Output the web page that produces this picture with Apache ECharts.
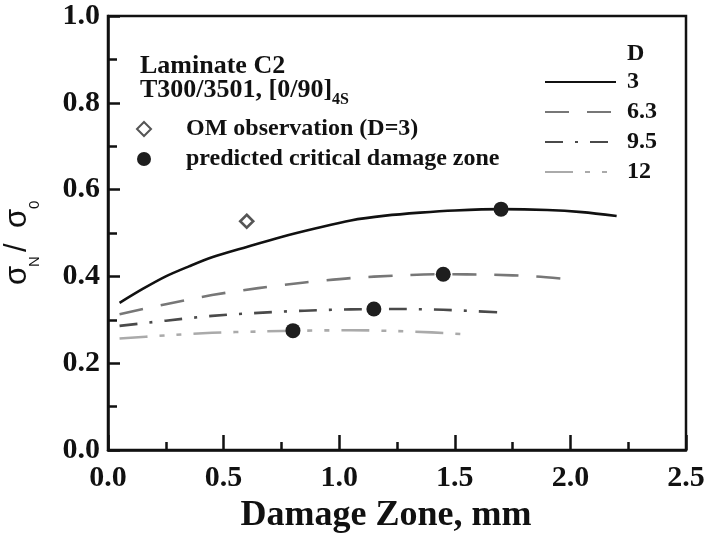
<!DOCTYPE html>
<html>
<head>
<meta charset="utf-8">
<script src="https://cdn.jsdelivr.net/npm/echarts@6/dist/echarts.min.js"></script>
<style>html,body{margin:0;padding:0;background:#fff}#c{width:708px;height:533px}</style>
</head>
<body>
<div id="c"></div>
<script>
// Damage zone (mm) and normalized strength for each hole diameter D
const d3X = [0.05, 0.15, 0.25, 0.35, 0.45, 0.6, 0.75, 0.9, 1.05, 1.2, 1.35, 1.5, 1.7, 1.9, 2.05, 2.2];
const d3Y = [0.339, 0.371, 0.400, 0.423, 0.444, 0.468, 0.491, 0.511, 0.529, 0.540, 0.547, 0.552, 0.555, 0.553, 0.548, 0.539];
const d63X = [0.05, 0.25, 0.45, 0.65, 0.85, 1.05, 1.25, 1.45, 1.65, 1.85, 2.02];
const d63Y = [0.313, 0.336, 0.357, 0.373, 0.386, 0.396, 0.402, 0.405, 0.404, 0.400, 0.392];
const d95X = [0.05, 0.25, 0.45, 0.65, 0.85, 1.05, 1.25, 1.45, 1.7];
const d95Y = [0.286, 0.298, 0.309, 0.316, 0.321, 0.324, 0.325, 0.323, 0.317];
const d12X = [0.05, 0.25, 0.45, 0.65, 0.85, 1.05, 1.25, 1.4, 1.56];
const d12Y = [0.257, 0.264, 0.270, 0.273, 0.275, 0.276, 0.274, 0.271, 0.266];
const omX = [0.6];
const omY = [0.527];
const predX = [1.70, 1.45, 1.15, 0.80];
const predY = [0.555, 0.405, 0.325, 0.275];
const xTicks = [0, 0.5, 1.0, 1.5, 2.0, 2.5];
const yTicks = [0, 0.2, 0.4, 0.6, 0.8, 1.0];

const zip = (xs, ys) => xs.map((x, i) => [x, ys[i]]);
const serif = 'Liberation Serif';
const sans = 'Liberation Sans';

const chart = echarts.init(document.getElementById('c'), null, {renderer: 'canvas'});

function lineSeries(name, xs, ys, color, type) {
  return {
    name: name, type: 'line', data: zip(xs, ys), smooth: 0.3,
    showSymbol: false, symbol: 'none',
    lineStyle: {color: color, width: 2.6, type: type, cap: 'butt'},
    itemStyle: {color: color},
    z: 2
  };
}

function yTitle() {
  const base = {fill: '#111', fontFamily: sans, verticalAlign: 'middle', align: 'left'};
  return {
    type: 'group', x: 28, y: 285, rotation: Math.PI / 2,
    children: [
      {type: 'text', x: 0, y: -11, style: Object.assign({}, base, {text: 'σ', fontSize: 31})},
      {type: 'text', x: 18, y: 7, style: Object.assign({}, base, {text: 'N', fontSize: 15})},
      {type: 'text', x: 33, y: -11, style: Object.assign({}, base, {text: '/', fontSize: 31})},
      {type: 'text', x: 57, y: -11, style: Object.assign({}, base, {text: 'σ', fontSize: 31})},
      {type: 'text', x: 76, y: 7, style: Object.assign({}, base, {text: '0', fontSize: 15})}
    ]
  };
}

const option = {
  animation: false,
  backgroundColor: '#fff',
  grid: {left: 108, right: 22, top: 16, bottom: 83, show: true, borderColor: '#111', borderWidth: 2.5,
    containLabel: false, outerBoundsMode: 'none'},
  xAxis: {
    type: 'value', min: xTicks[0], max: xTicks[xTicks.length - 1], interval: 0.5,
    name: 'Damage Zone, mm', nameLocation: 'middle', nameGap: 48,
    nameTextStyle: {fontFamily: serif, fontWeight: 'bold', fontSize: 36, color: '#111', padding: [0, 22, 0, 0]},
    axisLine: {show: true, lineStyle: {color: '#111', width: 2.5}},
    axisTick: {show: true, inside: true, length: 15, lineStyle: {color: '#111', width: 2.5}},
    minorTick: {show: true, splitNumber: 2, length: 8, lineStyle: {color: '#111', width: 2.5}},
    splitLine: {show: false},
    axisLabel: {fontFamily: serif, fontWeight: 'bold', fontSize: 30, color: '#111', margin: 13,
      formatter: v => v.toFixed(1)}
  },
  yAxis: {
    type: 'value', min: yTicks[0], max: yTicks[yTicks.length - 1], interval: 0.2,
    axisLine: {show: true, lineStyle: {color: '#111', width: 2.5}},
    axisTick: {show: true, inside: true, length: 12, lineStyle: {color: '#111', width: 2.5}},
    minorTick: {show: true, splitNumber: 2, length: 9, lineStyle: {color: '#111', width: 2.5}},
    splitLine: {show: false},
    axisLabel: {fontFamily: serif, fontWeight: 'bold', fontSize: 30, color: '#111', margin: 8,
      formatter: v => v.toFixed(1)}
  },
  legend: [
    {
      data: ['3', '6.3', '9.5', '12'],
      orient: 'vertical', left: 544, top: 70, padding: 0, itemWidth: 71, itemHeight: 14, itemGap: 6,
      itemStyle: {opacity: 0},
      textStyle: {fontFamily: serif, fontWeight: 'bold', fontSize: 24, color: '#111', padding: [0, 0, 0, 6]},
      selectedMode: false
    },
    {
      data: ['OM observation (D=3)', 'predicted critical damage zone'],
      orient: 'vertical', left: 136, top: 117, padding: 0, itemWidth: 14, itemHeight: 14, itemGap: 6,
      textStyle: {fontFamily: serif, fontWeight: 'bold', fontSize: 24, color: '#111', padding: [0, 0, 0, 30]},
      selectedMode: false
    }
  ],
  graphic: [
    {type: 'text', left: 627, top: 42, style: {text: 'D', fontFamily: serif, fontWeight: 'bold', fontSize: 24, fill: '#111'}},
    {type: 'text', left: 140, top: 53, style: {text: 'Laminate C2', fontFamily: serif, fontWeight: 'bold', fontSize: 26, fill: '#111'}},
    {type: 'text', left: 140, top: 77, style: {
      text: '{a|T300/3501, [0/90]}{s|4S}',
      rich: {
        a: {fontFamily: serif, fontWeight: 'bold', fontSize: 26, fill: '#111', color: '#111', lineHeight: 36},
        s: {fontFamily: serif, fontWeight: 'bold', fontSize: 16, fill: '#111', color: '#111', lineHeight: 4, verticalAlign: 'bottom'}
      }
    }},
    yTitle()
  ],
  series: [
    lineSeries('3', d3X, d3Y, '#111', 'solid'),
    lineSeries('6.3', d63X, d63Y, '#777', [24, 18]),
    lineSeries('9.5', d95X, d95Y, '#4a4a4a', [18, 12, 3, 12]),
    lineSeries('12', d12X, d12Y, '#aaa', [28, 12, 5, 12, 5, 12]),
    {
      name: 'OM observation (D=3)', type: 'scatter', data: zip(omX, omY),
      symbol: 'diamond', symbolSize: 13,
      itemStyle: {color: '#fff', borderColor: '#555', borderWidth: 2.6, opacity: 1}, z: 3
    },
    {
      name: 'predicted critical damage zone', type: 'scatter', data: zip(predX, predY),
      symbol: 'circle', symbolSize: 15,
      itemStyle: {color: '#1e1e1e', opacity: 1}, z: 3
    }
  ]
};
chart.setOption(option);
</script>
</body>
</html>
